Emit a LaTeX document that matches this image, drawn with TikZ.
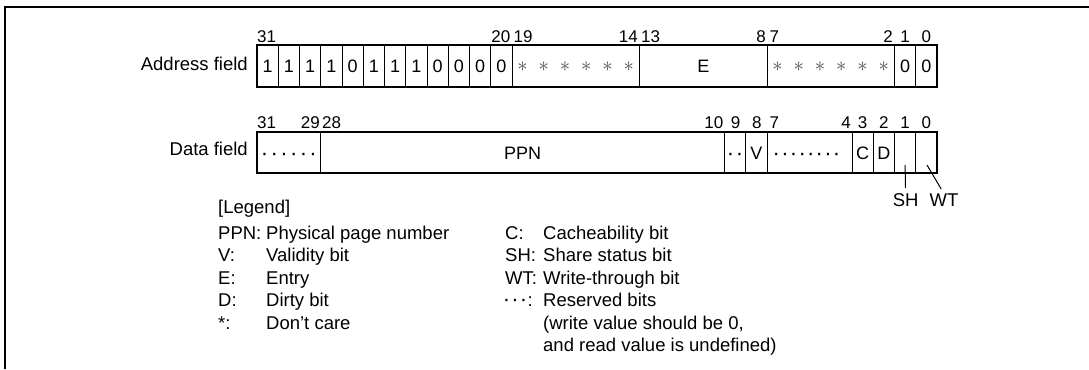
\documentclass[tikz,border=0pt]{standalone}
\usepackage{fontspec}
\setmainfont{Liberation Sans}
\newcommand\dotrow[2]{{\fontsize{22bp}{22bp}\selectfont\foreach\k in {1,...,#1}{\makebox[#2]{·}}}}
\begin{document}
\begin{tikzpicture}[x=1bp,y=-1bp,
  every node/.style={inner sep=0pt, text=black},
  lbl/.style={font=\fontsize{18.5bp}{22.5bp}\selectfont, anchor=base west},
  fieldlbl/.style={font=\fontsize{18.5bp}{22.5bp}\selectfont, anchor=base east},
  bitno/.style={font=\fontsize{17bp}{20bp}\selectfont, anchor=base},
  bitnoL/.style={bitno, anchor=base west},
  bitnoR/.style={bitno, anchor=base east},
  cellv/.style={font=\fontsize{18bp}{20bp}\selectfont, anchor=base},
  cellt/.style={font=\fontsize{18bp}{20bp}\selectfont, anchor=base},
  star/.style={font=\fontsize{19bp}{20bp}\selectfont, anchor=base, text=black!70},
  outerbox/.style={line width=2bp},
  innerline/.style={line width=1bp},
  leader/.style={line width=1bp, shorten >=5.5bp}
]
\useasboundingbox (0,0) rectangle (1089,369);
% frame
\draw[line width=2bp] (5,369) -- (5,7.3) -- (1089,7.3);

% ---------------- Address field ----------------
\foreach \b in {1,2,3,4,5,6,7,8,9,10,11,12,18,24,30,31}
  \draw[innerline] (257+21.25*\b,45) -- (257+21.25*\b,87.3);
\draw[outerbox] (257,45) rectangle (937,87.3);
\node[fieldlbl] (afl) at (248,70) {Address field};
% bit values
\foreach \v [count=\i from 0] in {1,1,1,1,0,1,1,1,0,0,0,0}
  \node[cellv] (a\i) at (257+21.25*\i+10.625,72.5) {\v};
\foreach \i in {12,13,14,15,16,17,24,25,26,27,28,29}
  \node[star] (s\i) at (257+21.25*\i+10.625,71.5) {$\ast$};
\node[cellt] (aE) at (703.25,72.5) {E};
\node[cellv] (a30) at (257+21.25*30+10.625,72.5) {0};
\node[cellv] (a31) at (257+21.25*31+10.625,72.5) {0};
% bit numbers
\node[bitnoL] (n31) at (257,42.3) {31};
\node[bitnoR] (n20) at (510.5,42.3) {20};
\node[bitnoL] (n19) at (513.5,42.3) {19};
\node[bitnoR] (n14) at (638,42.3) {14};
\node[bitnoL] (n13) at (641,42.3) {13};
\node[bitnoR] (n8) at (766,42.3) {8};
\node[bitnoL] (n7) at (769.5,42.3) {7};
\node[bitnoR] (n2) at (893,42.3) {2};
\node[bitno] (n1) at (905.1,42.3) {1};
\node[bitno] (n0) at (926.4,42.3) {0};

% ---------------- Data field ----------------
\foreach \b in {3,22,23,24,28,29,30,31}
  \draw[innerline] (257+21.25*\b,131.7) -- (257+21.25*\b,173.3);
\draw[outerbox] (257,131.7) rectangle (937,173.3);
\node[fieldlbl] (dfl) at (248,155) {Data field};
\node[cellt] (dres1) at (288.9,160) {\dotrow{6}{9.7bp}};
\node[cellt] (dppn) at (522.6,159) {PPN};
\node[cellt] (dres2) at (735.1,160) {\dotrow{2}{9bp}};
\node[cellt] (dV) at (756.4,159) {V};
\node[cellt] (dres3) at (806.5,160) {\dotrow{8}{8.6bp}};
\node[cellt] (dC) at (862.6,159) {C};
\node[cellt] (dD) at (883.9,159) {D};
% bit numbers
\node[bitnoL] (m31) at (257,128) {31};
\node[bitnoR] (m29) at (320,128) {29};
\node[bitnoL] (m28) at (322,128) {28};
\node[bitnoR] (m10) at (723.5,128) {10};
\node[bitno] (m9) at (735.6,128) {9};
\node[bitno] (m8) at (756.9,128) {8};
\node[bitnoL] (m7) at (769.5,128) {7};
\node[bitnoR] (m4) at (851,128) {4};
\node[bitno] (m3) at (862.6,128) {3};
\node[bitno] (m2) at (883.9,128) {2};
\node[bitno] (m1) at (905.1,128) {1};
\node[bitno] (m0) at (926.4,128) {0};
% SH / WT leaders
\coordinate (sh0) at (905.1,165);
\coordinate (wt0) at (927,165);
\node[lbl, anchor=base] (SH) at (905.6,206.7) {SH};
\node[lbl, anchor=base] (WT) at (944,206.7) {WT};
\draw[leader] (sh0) -- (SH.north);
\draw[leader] (wt0) -- (WT.north);

% ---------------- Legend ----------------
\node[lbl] (leg) at (218,213.3) {[Legend]};
\node[lbl] (k1) at (218,239.3) {PPN:};
\node[lbl] (t1) at (266,239.3) {Physical page number};
\node[lbl] (k2) at (218,261.8) {V:};
\node[lbl] (t2) at (266,261.8) {Validity bit};
\node[lbl] (k3) at (218,284.3) {E:};
\node[lbl] (t3) at (266,284.3) {Entry};
\node[lbl] (k4) at (218,306.8) {D:};
\node[lbl] (t4) at (266,306.8) {Dirty bit};
\node[lbl] (k5) at (218,329.3) {*:};
\node[lbl] (t5) at (266,329.3) {Don't care};

\node[lbl] (k6) at (505,239.3) {C:};
\node[lbl] (t6) at (543,239.3) {Cacheability bit};
\node[lbl] (k7) at (505,261.8) {SH:};
\node[lbl] (t7) at (543,261.8) {Share status bit};
\node[lbl] (k8) at (505,284.3) {WT:};
\node[lbl] (t8) at (543,284.3) {Write-through bit};
\node[lbl] (k9) at (502,306.8) {\dotrow{3}{8.5bp}:};
\node[lbl] (t9) at (543,306.8) {Reserved bits};
\node[lbl] (t10) at (543,329.3) {(write value should be 0,};
\node[lbl] (t11) at (543,351.8) {and read value is undefined)};
\end{tikzpicture}
\end{document}
